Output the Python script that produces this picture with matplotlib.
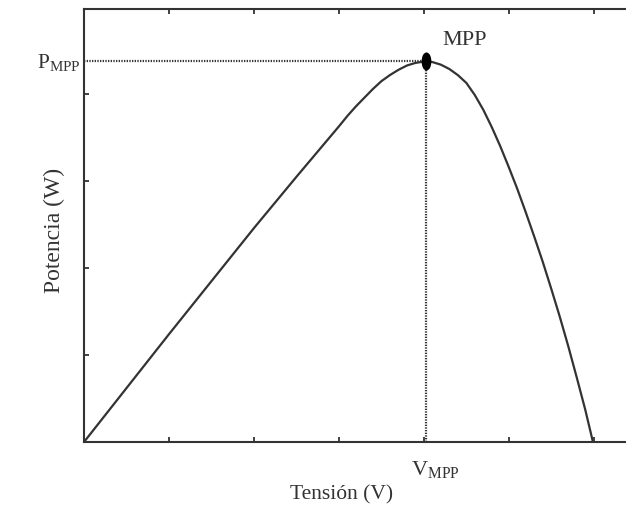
import matplotlib
matplotlib.use("Agg")
import matplotlib.pyplot as plt
from matplotlib.path import Path
from matplotlib.transforms import Affine2D

plt.rcParams['font.family'] = ['Liberation Serif', 'DejaVu Serif']
plt.rcParams['mathtext.fontset'] = 'custom'
plt.rcParams['mathtext.rm'] = 'Liberation Serif'

# curve: voltage (V) vs power (W), arbitrary units
tension = [0, 0.5, 1, 1.5, 2, 2.5, 3, 3.1, 3.2, 3.3, 3.4, 3.5, 3.6, 3.7, 3.8, 3.9,
           4.03, 4.1, 4.2, 4.3, 4.4, 4.5, 4.6, 4.7, 4.8, 4.9, 5.0, 5.1, 5.2, 5.3,
           5.4, 5.5, 5.6, 5.7, 5.8, 5.9, 5.99]
potencia = [0, 0.62, 1.24, 1.85, 2.46, 3.05, 3.63, 3.75, 3.86, 3.96, 4.06, 4.15, 4.22,
            4.28, 4.33, 4.36, 4.38, 4.37, 4.34, 4.29, 4.22, 4.13, 3.99, 3.82, 3.62,
            3.40, 3.16, 2.91, 2.64, 2.36, 2.07, 1.76, 1.44, 1.10, 0.74, 0.37, 0]
v_mpp = 4.03
p_mpp = 4.38

dark = '#333333'

fig = plt.figure(figsize=(6.26, 5.06), dpi=100)
ax = fig.add_axes([0.1342, 0.1245, 0.87, 0.8557])

ax.plot(tension, potencia, color=dark, lw=1.6, zorder=3)

# dotted guide lines to the MPP
ax.plot([0, v_mpp], [p_mpp, p_mpp], color=dark, lw=1.6, ls=(0, (0.6, 0.6)), zorder=2)
ax.plot([v_mpp, v_mpp], [0, p_mpp], color=dark, lw=1.6, ls=(0, (0.6, 0.6)), zorder=2)

# elliptical MPP marker (taller than wide)
ellipse = Path.unit_circle().transformed(Affine2D().scale(0.5, 1.0))
ax.plot([v_mpp], [p_mpp], marker=ellipse, markersize=12, color='black', zorder=4)

ax.text(4.22, 4.63, 'MPP', fontsize=16, color=dark, ha='left', va='center')
ax.text(-0.55, p_mpp, r'$\mathregular{P_{MPP}}$', fontsize=15.5, color=dark,
        ha='left', va='center', clip_on=False)
ax.text(v_mpp + 0.1, -0.3, r'$\mathregular{V_{MPP}}$', fontsize=16, color=dark,
        ha='center', va='center', clip_on=False)

ax.set_xlim(0, 6.41)
ax.set_ylim(0, 4.98)
ax.set_xticks([1, 2, 3, 4, 5, 6])
ax.set_yticks([1, 2, 3, 4])
ax.tick_params(direction='in', top=True, right=False, length=3.5, width=1.3,
               color=dark, labelbottom=False, labelleft=False)
for side in ['left', 'bottom', 'top']:
    ax.spines[side].set_linewidth(1.5)
    ax.spines[side].set_color(dark)
ax.spines['right'].set_visible(False)

ax.set_xlabel('Tensión (V)', fontsize=15.5, color=dark)
ax.xaxis.set_label_coords((340 - 84) / 542, -0.098)
ax.set_ylabel('Potencia (W)', fontsize=17, color=dark)
ax.yaxis.set_label_coords(-0.035, 0.492)

fig.savefig('out.png', dpi=100)
